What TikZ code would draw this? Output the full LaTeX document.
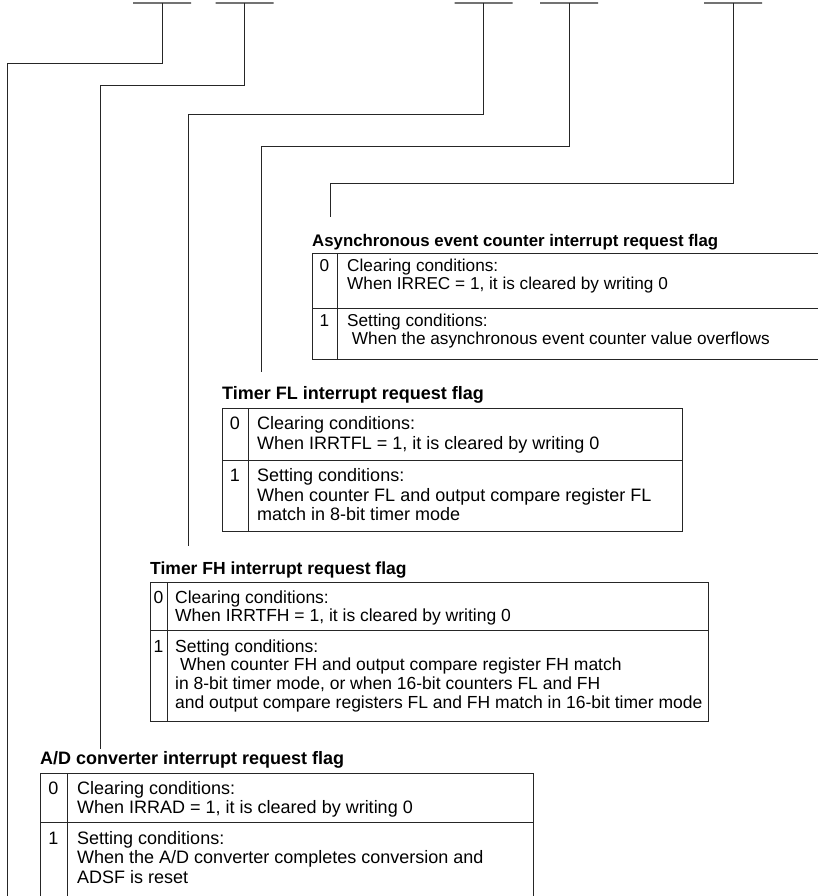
\documentclass[tikz,border=0pt]{standalone}
\usepackage{fontspec}
\setmainfont{Liberation Sans}
\begin{document}
\begin{tikzpicture}[x=1pt,y=-1pt,
  bar/.style={draw=black!55,line width=1.4pt,minimum width=58pt,minimum height=0pt,inner sep=0pt,shape=rectangle},
  conn/.style={draw=black!85,line width=1pt},
  tab/.style={draw=black!85,line width=1pt},
  fa/.style={font=\fontsize{17.2}{18}\selectfont},
  fb/.style={font=\fontsize{18}{19.5}\selectfont},
  fc/.style={font=\fontsize{17.5}{18.7}\selectfont},
  ttla/.style={font=\bfseries\fontsize{16.8}{18}\selectfont,inner sep=0pt,anchor=base west},
  ttlb/.style={font=\bfseries\fontsize{18}{19.5}\selectfont,inner sep=0pt,anchor=base west},
  ttlc/.style={font=\bfseries\fontsize{17.5}{18.7}\selectfont,inner sep=0pt,anchor=base west},
  txt/.style={inner sep=0pt,anchor=base west},
  bitno/.style={inner sep=0pt,anchor=base}
]
\useasboundingbox (0,0) rectangle (818,896);

% bit bars
\node[bar] (b1) at (162,3) {};
\node[bar] (b2) at (244.5,3) {};
\node[bar] (b3) at (483.5,3) {};
\node[bar] (b4) at (569,3) {};
\node[bar] (b5) at (733,3) {};

% corner and end coordinates
\coordinate (k1) at (7,64);    \coordinate (e1) at (7,900);
\coordinate (k2) at (100,86);  \coordinate (e2) at (100,749);
\coordinate (k3) at (188,115); \coordinate (e3) at (188,546);
\coordinate (k4) at (261,147); \coordinate (e4) at (261,372);
\coordinate (k5) at (330,184); \coordinate (e5) at (330,217);

\draw[conn] (b1.center) |- (k1) -- (e1);
\draw[conn] (b2.center) |- (k2) -- (e2);
\draw[conn] (b3.center) |- (k3) -- (e3);
\draw[conn] (b4.center) |- (k4) -- (e4);
\draw[conn] (b5.center) |- (k5) -- (e5);

% ---------- Asynchronous event counter ----------
\node[ttla] (tA) at (312,246) {Asynchronous event counter interrupt request flag};
\draw[tab] (312,253) rectangle (840,359);
\draw[tab] (312,308) -- (840,308);
\draw[tab] (337,253) -- (337,359);
\node[fa,bitno] (a0n) at (324.5,271) {0};
\node[fa,txt] (a0) at (347,271) {\vtop{\hbox{Clearing conditions:}\hbox{When IRREC = 1, it is cleared by writing 0}}};
\node[fa,bitno] (a1n) at (324.5,326) {1};
\node[fa,txt] (a1) at (347,326) {\vtop{\hbox{Setting conditions:}\hbox{\ When the asynchronous event counter value overflows}}};

% ---------- Timer FL ----------
\node[ttlb] (tL) at (222,399.5) {Timer FL interrupt request flag};
\draw[tab] (222,408) rectangle (682,531);
\draw[tab] (222,460) -- (682,460);
\draw[tab] (248,408) -- (248,531);
\node[fb,bitno] (l0n) at (235,429.5) {0};
\node[fb,txt] (l0) at (257,429.5) {\vtop{\hbox{Clearing conditions:}\hbox{When IRRTFL = 1, it is cleared by writing 0}}};
\node[fb,bitno] (l1n) at (235,481.5) {1};
\node[fb,txt] (l1) at (257,481.5) {\vtop{\hbox{Setting conditions:}\hbox{When counter FL and output compare register FL}\hbox{match in 8-bit timer mode}}};

% ---------- Timer FH ----------
\node[ttlc] (tH) at (150,574) {Timer FH interrupt request flag};
\draw[tab] (150,582) rectangle (708,721);
\draw[tab] (150,630) -- (708,630);
\draw[tab] (167,582) -- (167,721);
\node[fc,bitno] (h0n) at (158.5,603) {0};
\node[fc,txt] (h0) at (175,603) {\vtop{\hbox{Clearing conditions:}\hbox{When IRRTFH = 1, it is cleared by writing 0}}};
\node[fc,bitno] (h1n) at (158.5,652) {1};
\node[fc,txt] (h1) at (175,652) {\vtop{\hbox{Setting conditions:}\hbox{\ When counter FH and output compare register FH match}\hbox{in 8-bit timer mode, or when 16-bit counters FL and FH}\hbox{and output compare registers FL and FH match in 16-bit timer mode}}};

% ---------- A/D converter ----------
\node[ttlb] (tD) at (40,764.5) {A/D converter interrupt request flag};
\draw[tab] (40,773) rectangle (533,910);
\draw[tab] (40,822) -- (533,822);
\draw[tab] (67,773) -- (67,910);
\node[fb,bitno] (d0n) at (53.5,794) {0};
\node[fb,txt] (d0) at (77,794) {\vtop{\hbox{Clearing conditions:}\hbox{When IRRAD = 1, it is cleared by writing 0}}};
\node[fb,bitno] (d1n) at (53.5,844) {1};
\node[fb,txt] (d1) at (77,844) {\vtop{\hbox{Setting conditions:}\hbox{When the A/D converter completes conversion and}\hbox{ADSF is reset}}};
\end{tikzpicture}
\end{document}
